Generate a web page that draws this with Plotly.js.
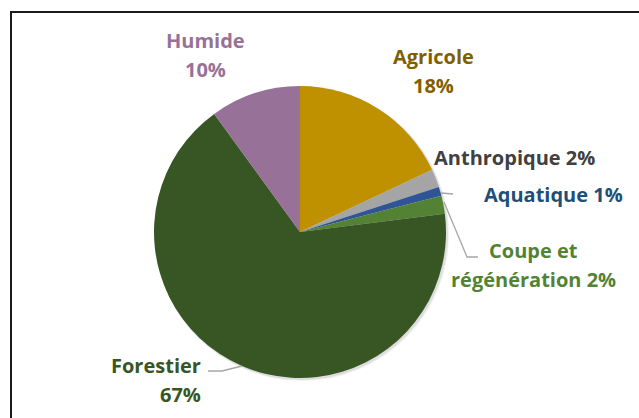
<!DOCTYPE html>
<html><head><meta charset="utf-8">
<script src="https://cdn.plot.ly/plotly-3.0.1.min.js"></script>
<style>html,body{margin:0;padding:0;background:#fff}#c{width:639px;height:418px}</style>
</head><body><div id="c"></div>
<script>
var categories = ["Agricole","Anthropique","Aquatique","Coupe et régénération","Forestier","Humide"];
var values = [18,2,1,2,67,10];
var sliceColors = ["#BF9000","#A5A5A5","#2F5597","#548235","#375623","#977198"];
var labelColors = ["#7F6000","#404040","#1F4E79","#548235","#375623","#977198"];
var labelLines = [["Agricole","18%"],["Anthropique 2%"],["Aquatique 1%"],["Coupe et","régénération 2%"],["Forestier","67%"],["Humide","10%"]];

var W=639,H=418;
function px(x){return x/W;} function py(y){return 1-y/H;}
var cx=300, cy=232, r=146;

// label anchor positions (pixels): [x, y of first line, align]
var labelPos = [[433,57,"center"],[514,157,"center"],[553,194,"center"],[533,250,"center"],[203,365,"right"],[205,40,"center"]];
var lineGap = 29;
var FONT = "'Open Sans', 'Liberation Sans', sans-serif";

var annotations=[];
labelLines.forEach(function(lines,i){
  lines.forEach(function(t,j){
    var p=labelPos[i];
    annotations.push({xref:"paper",yref:"paper",x:px(p[0]),y:py(p[1]+j*lineGap),
      xanchor:p[2],yanchor:"middle",text:"<b>"+t+"</b>",showarrow:false,
      font:{family:FONT,size:20,color:labelColors[i]}});
  });
});

function pathPx(pts){
  return pts.map(function(p,k){return (k?"L":"M")+px(p[0])+","+py(p[1]);}).join(" ");
}
var shapes=[
  // shadow
  {type:"circle",xref:"paper",yref:"paper",layer:"below",x0:px(cx-r+1),x1:px(cx+r+3),y0:py(cy+r+3),y1:py(cy-r+1),fillcolor:"rgba(0,0,0,0.06)",line:{width:0}},
  {type:"circle",xref:"paper",yref:"paper",layer:"below",x0:px(cx-r+1),x1:px(cx+r+2),y0:py(cy+r+2),y1:py(cy-r+1),fillcolor:"rgba(0,0,0,0.08)",line:{width:0}},
  // border
  {type:"line",xref:"paper",yref:"paper",x0:px(11),x1:px(11),y0:py(12),y1:py(420),line:{color:"#1a1a1a",width:2}},
  {type:"line",xref:"paper",yref:"paper",x0:px(10),x1:px(640),y0:py(12),y1:py(12),line:{color:"#1a1a1a",width:2}},
  // leader lines
  {type:"path",xref:"paper",yref:"paper",path:pathPx([[441,193],[453,194]]),line:{color:"#A6A6A6",width:1.3}},
  {type:"path",xref:"paper",yref:"paper",path:pathPx([[444,202],[467,257],[478,257]]),line:{color:"#A6A6A6",width:1.3}},
  {type:"path",xref:"paper",yref:"paper",path:pathPx([[208,371],[222,371],[242,366]]),line:{color:"#A6A6A6",width:1.3}}
];

var data=[{type:"pie",labels:categories,values:values,sort:false,direction:"clockwise",rotation:0,
  marker:{colors:sliceColors,line:{width:0}},textinfo:"none",hoverinfo:"label+percent",
  domain:{x:[px(cx-r),px(cx+r)],y:[py(cy+r),py(cy-r)]}}];

var layout={width:W,height:H,margin:{l:0,r:0,t:0,b:0},showlegend:false,
  paper_bgcolor:"#fff",annotations:annotations,shapes:shapes};
Plotly.newPlot("c",data,layout,{displayModeBar:false,staticPlot:true});
</script></body></html>
